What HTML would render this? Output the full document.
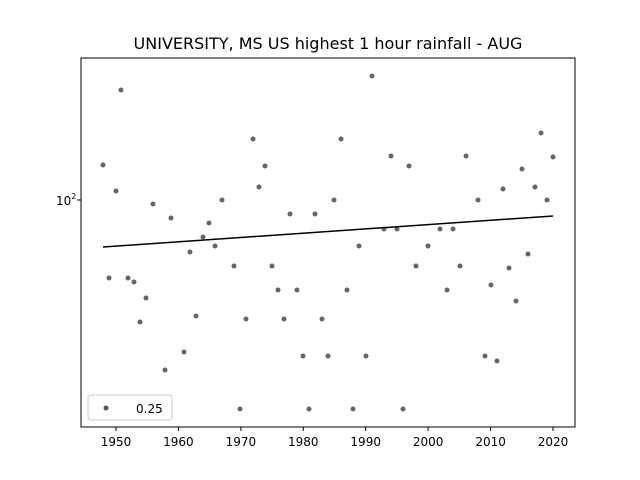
<!DOCTYPE html>
<html><head><meta charset="utf-8"><style>body{margin:0;background:#fff}svg{display:block}</style></head><body>
<svg width="640" height="480" xmlns="http://www.w3.org/2000/svg" font-family="DejaVu Sans, sans-serif">
<rect width="640" height="480" fill="#fff"/>
<text x="328" y="49" text-anchor="middle" font-size="16">UNIVERSITY, MS US highest 1 hour rainfall - AUG</text>
<g fill="#555" fill-opacity="0.9">
<circle cx="103" cy="165" r="2.5"/><circle cx="109" cy="278" r="2.5"/><circle cx="116" cy="191" r="2.5"/><circle cx="121" cy="90" r="2.5"/><circle cx="128" cy="278" r="2.5"/><circle cx="134" cy="282" r="2.5"/><circle cx="140" cy="322" r="2.5"/><circle cx="146" cy="298" r="2.5"/><circle cx="153" cy="204" r="2.5"/><circle cx="165" cy="370" r="2.5"/><circle cx="171" cy="218" r="2.5"/><circle cx="184" cy="352" r="2.5"/><circle cx="190" cy="252" r="2.5"/><circle cx="196" cy="316" r="2.5"/><circle cx="203" cy="237" r="2.5"/><circle cx="209" cy="223" r="2.5"/><circle cx="215" cy="246" r="2.5"/><circle cx="222" cy="200" r="2.5"/><circle cx="234" cy="266" r="2.5"/><circle cx="240" cy="409" r="2.5"/><circle cx="246" cy="319" r="2.5"/><circle cx="253" cy="139" r="2.5"/><circle cx="259" cy="187" r="2.5"/><circle cx="265" cy="166" r="2.5"/><circle cx="272" cy="266" r="2.5"/><circle cx="278" cy="290" r="2.5"/><circle cx="284" cy="319" r="2.5"/><circle cx="290" cy="214" r="2.5"/><circle cx="297" cy="290" r="2.5"/><circle cx="303" cy="356" r="2.5"/><circle cx="309" cy="409" r="2.5"/><circle cx="315" cy="214" r="2.5"/><circle cx="322" cy="319" r="2.5"/><circle cx="328" cy="356" r="2.5"/><circle cx="334" cy="200" r="2.5"/><circle cx="341" cy="139" r="2.5"/><circle cx="347" cy="290" r="2.5"/><circle cx="353" cy="409" r="2.5"/><circle cx="359" cy="246" r="2.5"/><circle cx="366" cy="356" r="2.5"/><circle cx="372" cy="76" r="2.5"/><circle cx="384" cy="229" r="2.5"/><circle cx="391" cy="156" r="2.5"/><circle cx="397" cy="229" r="2.5"/><circle cx="403" cy="409" r="2.5"/><circle cx="409" cy="166" r="2.5"/><circle cx="416" cy="266" r="2.5"/><circle cx="428" cy="246" r="2.5"/><circle cx="440" cy="229" r="2.5"/><circle cx="447" cy="290" r="2.5"/><circle cx="453" cy="229" r="2.5"/><circle cx="460" cy="266" r="2.5"/><circle cx="466" cy="156" r="2.5"/><circle cx="478" cy="200" r="2.5"/><circle cx="485" cy="356" r="2.5"/><circle cx="491" cy="285" r="2.5"/><circle cx="497" cy="361" r="2.5"/><circle cx="503" cy="189" r="2.5"/><circle cx="509" cy="268" r="2.5"/><circle cx="516" cy="301" r="2.5"/><circle cx="522" cy="169" r="2.5"/><circle cx="528" cy="254" r="2.5"/><circle cx="535" cy="187" r="2.5"/><circle cx="541" cy="133" r="2.5"/><circle cx="547" cy="200" r="2.5"/><circle cx="553" cy="157" r="2.5"/>
</g>
<line x1="103" y1="247" x2="553" y2="216" stroke="#000" stroke-width="1.5"/>
<rect x="81" y="58" width="494" height="369" fill="none" stroke="#000" stroke-width="1"/>
<g stroke="#000" stroke-width="1">
<line x1="116" y1="427" x2="116" y2="431"/><line x1="178.4" y1="427" x2="178.4" y2="431"/><line x1="240.9" y1="427" x2="240.9" y2="431"/><line x1="303.3" y1="427" x2="303.3" y2="431"/><line x1="365.7" y1="427" x2="365.7" y2="431"/><line x1="428.1" y1="427" x2="428.1" y2="431"/><line x1="490.6" y1="427" x2="490.6" y2="431"/><line x1="553" y1="427" x2="553" y2="431"/>
<line x1="77" y1="200" x2="81" y2="200"/>
</g>
<g font-size="12" text-anchor="middle">
<text x="116" y="446">1950</text><text x="178.4" y="446">1960</text><text x="240.9" y="446">1970</text><text x="303.3" y="446">1980</text><text x="365.7" y="446">1990</text><text x="428.1" y="446">2000</text><text x="490.6" y="446">2010</text><text x="553" y="446">2020</text>
</g>
<text x="56" y="205" font-size="12">10<tspan font-size="8" dy="-6">2</tspan></text>
<rect x="88" y="395" width="84" height="25" rx="3" fill="#fff" stroke="#ccc"/>
<circle cx="106" cy="408" r="2.5" fill="#555"/>
<text x="136" y="413" font-size="12">0.25</text>
</svg>
</body></html>
